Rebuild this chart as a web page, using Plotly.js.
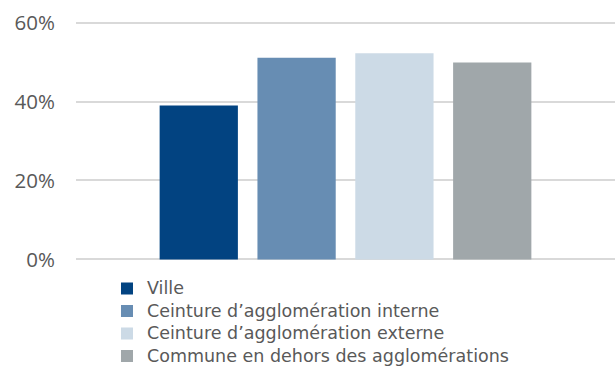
<!DOCTYPE html>
<html>
<head>
<meta charset="utf-8">
<script src="https://cdn.plot.ly/plotly-3.0.1.min.js"></script>
<style>html,body{margin:0;padding:0;background:#fff;overflow:hidden;}#chart{width:616px;height:369px;}</style>
</head>
<body>
<div id="chart"></div>
<script>
const category = ['Part'];
const seriesNames = ['Ville', 'Ceinture d’agglomération interne', 'Ceinture d’agglomération externe', 'Commune en dehors des agglomérations'];
const seriesValues = [0.39, 0.511, 0.522, 0.499];
const seriesColors = ['#024381', '#678db3', '#ccdae6', '#a0a7aa'];
const yTicks = [0, 0.2, 0.4, 0.6];
const yTickLabels = ['0%', '20%', '40%', '60%'];

const traces = seriesNames.map((name, i) => ({
  type: 'bar',
  name: '<span style="font-size:17.5px">' + name + '</span>',
  x: category,
  y: [seriesValues[i]],
  marker: {color: seriesColors[i], line: {width: 0}},
  hoverinfo: 'skip'
}));

const layout = {
  width: 616, height: 369,
  margin: {l: 76, r: 1, t: 21, b: 108, pad: 0, autoexpand: false},
  paper_bgcolor: '#ffffff', plot_bgcolor: '#ffffff',
  font: {family: 'Open Sans, sans-serif', color: '#595959'},
  barmode: 'group',
  bargap: 0.274,
  bargroupgap: 0.2,
  showlegend: true,
  legend: {
    orientation: 'v', traceorder: 'normal',
    x: 0.0575, xanchor: 'left', y: -0.047, yanchor: 'top',
    font: {family: 'DejaVu Sans, sans-serif', size: 15, color: '#595959'},
    bgcolor: 'rgba(0,0,0,0)', borderwidth: 0
  },
  xaxis: {
    type: 'category', range: [-0.5, 0.5], showticklabels: false,
    showgrid: false, zeroline: false, showline: false, ticks: ''
  },
  yaxis: {
    range: [-0.004, 0.604], tickvals: yTicks, ticktext: yTickLabels,
    showgrid: true, gridcolor: '#d9d9d9', gridwidth: 2,
    zeroline: false, showline: false, ticks: '',
    ticklabelstandoff: 20,
    tickfont: {family: 'Open Sans, sans-serif', size: 20.5, color: '#595959'}
  }
};

Plotly.newPlot('chart', traces, layout, {displayModeBar: false, staticPlot: true});
</script>
</body>
</html>
